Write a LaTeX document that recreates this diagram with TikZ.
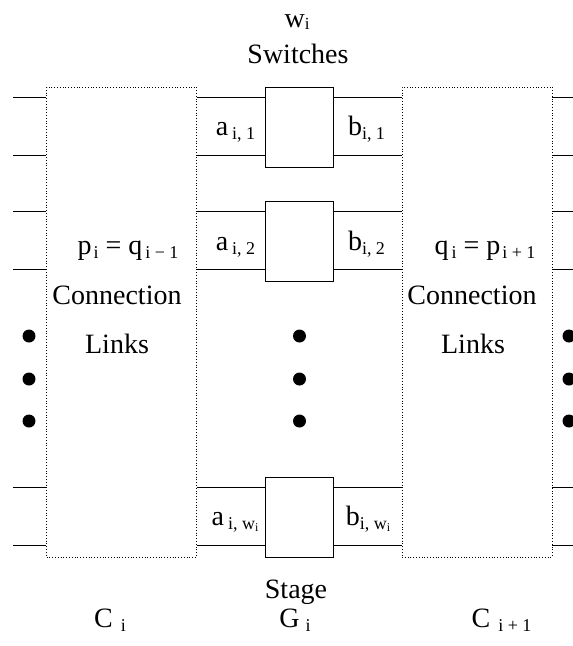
\documentclass[tikz,border=0pt]{standalone}
\usepackage{fontspec}
\setmainfont{Liberation Serif}
\usetikzlibrary{positioning, calc}
\newcommand{\sbs}[1]{\raisebox{-4.5pt}{\fontsize{18}{18}\selectfont #1}}
\newcommand{\ssbs}[1]{\raisebox{-2pt}{\fontsize{12}{12}\selectfont #1}}
\tikzset{
  conn/.style={rectangle, draw, line width=0.8pt, dash pattern=on 0.8pt off 2pt,
               minimum width=150pt, minimum height=470pt, inner sep=0pt},
  switchbox/.style={rectangle, draw, line width=0.9pt, minimum width=68pt,
                    minimum height=80pt, inner sep=0pt},
  wire/.style={line width=0.8pt},
  lbl/.style={anchor=base, inner sep=0pt, font=\fontsize{28}{32}\selectfont},
  blob/.style={circle, fill, inner sep=0pt, minimum size=13pt}
}
\begin{document}
\begin{tikzpicture}[x=1pt, y=-1pt]
  \useasboundingbox (0,0) rectangle (573,646);
  % connection links and switches
  \node[conn] (Ci) at (121.5,322) {};
  \node[conn] (Cn) at (477,322) {};
  \node[switchbox] (s1) at (299.5,127) {};
  \node[switchbox] (s2) at (299.5,241) {};
  \node[switchbox] (sw) at (299.5,517) {};
  \coordinate (lend) at (13,0);
  \coordinate (rend) at (573,0);
  % wires
  \foreach \s in {s1,s2,sw}
    \foreach \a/\d in {north west/-11pt, south west/12pt} {
      \coordinate (w) at ([yshift=\d]\s.\a);
      \draw[wire] (lend |- w) -- (Ci.west |- w)
                  (Ci.east |- w) -- (w)
                  (w -| \s.east) -- (w -| Cn.west)
                  (Cn.east |- w) -- (rend |- w);
    }
  % dots
  \foreach \y in {336,379,421} {
    \node[blob] (dl\y) at (29,\y) {};
    \node[blob] (dm\y) at (299.5,\y) {};
    \node[blob] (dr\y) at (569,\y) {};
  }
  % labels
  \node[lbl] (wi) at (297,27) {w\ssbs{\fontsize{17}{17}\selectfont i}};
  \node[lbl] (swt) at (298,63) {Switches};
  \node[lbl] (a1) at (235.5,135) {a\hspace{4pt}\sbs{i, 1}};
  \node[lbl] (b1) at (366.5,135) {b\sbs{i, 1}};
  \node[lbl] (a2) at (235.5,250) {a\hspace{4pt}\sbs{i, 2}};
  \node[lbl] (b2) at (366.5,250) {b\sbs{i, 2}};
  \node[lbl] (aw) at (235,525) {a\hspace{4pt}\sbs{i, w\ssbs{i}}};
  \node[lbl] (bw) at (368,525) {b\sbs{i, w\ssbs{i}}};
  \node[lbl] (pq) at (128,254) {p\hspace{2pt}\sbs{i} = q\hspace{3pt}\sbs{i − 1}};
  \node[lbl] (qp) at (485,254) {q\hspace{3pt}\sbs{i} = p\hspace{2pt}\sbs{i + 1}};
  \node[lbl] (cl1) at (117,304) {Connection};
  \node[lbl] (ll1) at (117,353) {Links};
  \node[lbl] (cl2) at (472,304) {Connection};
  \node[lbl] (ll2) at (473,353) {Links};
  \node[lbl] (stg) at (296,598) {Stage};
  \node[lbl] (ci) at (110,627) {C\hspace{8pt}\sbs{i}};
  \node[lbl] (gi) at (295,627) {G\hspace{6pt}\sbs{i}};
  \node[lbl] (cn) at (501.5,627) {C\hspace{8pt}\sbs{i + 1}};
\end{tikzpicture}
\end{document}
